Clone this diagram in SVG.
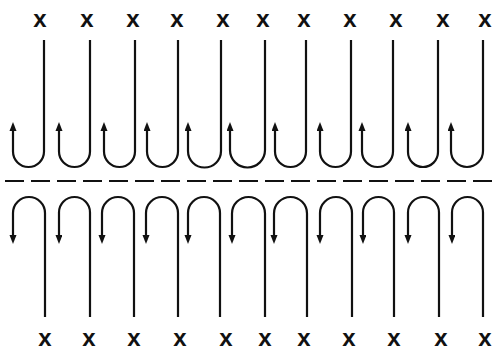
<svg xmlns="http://www.w3.org/2000/svg" width="496" height="355" viewBox="0 0 496 355">
<style>
.h{fill:none;stroke:#111;stroke-width:2.2;marker-end:url(#ah)}
.x{font-family:"Liberation Sans",Arial,sans-serif;font-weight:bold;font-size:24px;fill:#111;text-anchor:middle}
.d{stroke:#111;stroke-width:2.2;stroke-dasharray:19 7}
</style>
<defs>
<marker id="ah" markerUnits="userSpaceOnUse" markerWidth="10" markerHeight="8" refX="1" refY="3.5" orient="auto">
<path d="M0,0 L9,3.5 L0,7 z" fill="#111"/>
</marker>
</defs>
<rect width="496" height="355" fill="#fff"/>
<g id="top">
<g id="t1"><text class="x" x="40" y="27">x</text><path class="h" d="M44,40 V151.5 A15.5 15.5 0 0 1 13,151.5 V130"/></g>
<g id="t2"><text class="x" x="87" y="27">x</text><path class="h" d="M90,40 V151.5 A15.5 15.5 0 0 1 59,151.5 V130"/></g>
<g id="t3"><text class="x" x="133" y="27">x</text><path class="h" d="M135,40 V151.5 A15.5 15.5 0 0 1 104,151.5 V130"/></g>
<g id="t4"><text class="x" x="177" y="27">x</text><path class="h" d="M178,40 V151.5 A15.5 15.5 0 0 1 147,151.5 V130"/></g>
<g id="t5"><text class="x" x="223" y="27">x</text><path class="h" d="M221,40 V151 A16.5 16.5 0 0 1 188,151 V130"/></g>
<g id="t6"><text class="x" x="263" y="27">x</text><path class="h" d="M265,40 V150 A17.5 17.5 0 0 1 230,150 V130"/></g>
<g id="t7"><text class="x" x="304" y="27">x</text><path class="h" d="M306,40 V151.5 A15.5 15.5 0 0 1 275,151.5 V130"/></g>
<g id="t8"><text class="x" x="350" y="27">x</text><path class="h" d="M351,40 V151.5 A15.5 15.5 0 0 1 320,151.5 V130"/></g>
<g id="t9"><text class="x" x="396" y="27">x</text><path class="h" d="M393,40 V151.5 A15.5 15.5 0 0 1 362,151.5 V130"/></g>
<g id="t10"><text class="x" x="443" y="27">x</text><path class="h" d="M438,40 V152 A15 15 0 0 1 408,152 V130"/></g>
<g id="t11"><text class="x" x="485" y="27">x</text><path class="h" d="M483,40 V151 A16 16 0 0 1 451,151 V130"/></g>
</g>
<g id="divider"><line class="d" x1="5" y1="181" x2="496" y2="181"/></g>
<g id="bottom">
<g id="b1"><text class="x" x="45" y="346">x</text><path class="h" d="M45,317 V213 A16 16 0 0 0 13,213 V236"/></g>
<g id="b2"><text class="x" x="89" y="346">x</text><path class="h" d="M90,317 V212.5 A15.5 15.5 0 0 0 59,212.5 V236"/></g>
<g id="b3"><text class="x" x="134" y="346">x</text><path class="h" d="M134,317 V213 A16 16 0 0 0 102,213 V236"/></g>
<g id="b4"><text class="x" x="180" y="346">x</text><path class="h" d="M178,317 V213 A16 16 0 0 0 146,213 V236"/></g>
<g id="b5"><text class="x" x="226" y="346">x</text><path class="h" d="M220,317 V213 A16 16 0 0 0 188,213 V236"/></g>
<g id="b6"><text class="x" x="265" y="346">x</text><path class="h" d="M265,317 V213.5 A16.5 16.5 0 0 0 232,213.5 V236"/></g>
<g id="b7"><text class="x" x="304" y="346">x</text><path class="h" d="M307,317 V213.5 A16.5 16.5 0 0 0 274,213.5 V236"/></g>
<g id="b8"><text class="x" x="349" y="346">x</text><path class="h" d="M352,317 V213 A16 16 0 0 0 320,213 V236"/></g>
<g id="b9"><text class="x" x="394" y="346">x</text><path class="h" d="M394,317 V212.5 A15.5 15.5 0 0 0 363,212.5 V236"/></g>
<g id="b10"><text class="x" x="441" y="346">x</text><path class="h" d="M439,317 V212.5 A15.5 15.5 0 0 0 408,212.5 V236"/></g>
<g id="b11"><text class="x" x="485" y="346">x</text><path class="h" d="M483,317 V212.5 A15.5 15.5 0 0 0 452,212.5 V236"/></g>
</g>
</svg>
